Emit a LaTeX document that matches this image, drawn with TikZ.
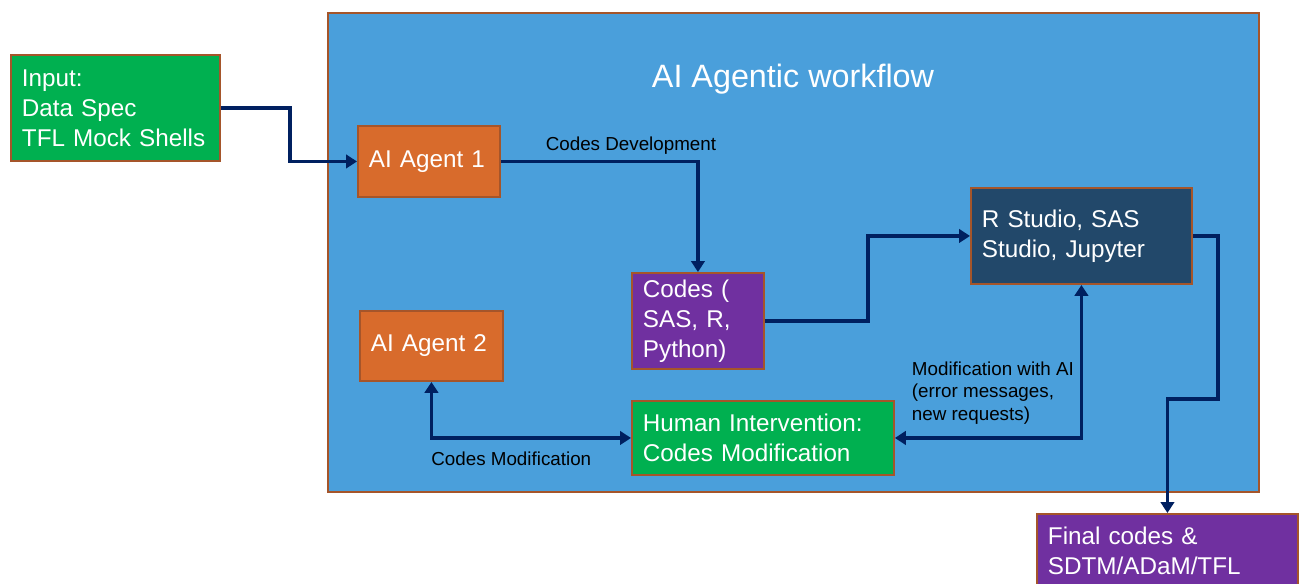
\documentclass[tikz,border=0pt]{standalone}
\usepackage{fontspec}
\setmainfont{Liberation Sans}
\usepackage{tikz}
\usetikzlibrary{arrows.meta,positioning}
\definecolor{flowBlue}{HTML}{4A9FDB}
\definecolor{edgeBrown}{HTML}{A5552A}
\definecolor{boxGreen}{HTML}{00B050}
\definecolor{boxOrange}{HTML}{D86B2C}
\definecolor{boxPurple}{HTML}{7030A0}
\definecolor{boxSlate}{HTML}{22486A}
\definecolor{arrowNavy}{HTML}{002060}
\tikzstyle{cbox}=[rectangle, draw=edgeBrown, line width=1.1pt, text=white, align=left, inner xsep=0.22cm, anchor=north west, font=\fontsize{13.8}{17}\selectfont]
\tikzstyle{flow}=[draw=arrowNavy, line width=1.9pt, -{Triangle[length=0.22cm,width=0.27cm]}]
\tikzstyle{flowboth}=[flow, {Triangle[length=0.22cm,width=0.27cm]}-{Triangle[length=0.22cm,width=0.27cm]}]
\tikzstyle{lbl}=[font=\fontsize{10.7}{12.8}\selectfont, text=black, align=left]

\begin{document}
\begin{tikzpicture}[x=0.02cm,y=-0.02cm]
	\path[use as bounding box, clip] (0,0) rectangle (1299,583);

	%%% outer frame
	\node[draw=edgeBrown, fill=flowBlue, line width=1.1pt, anchor=north west, minimum width=18.62cm, minimum height=9.58cm, inner sep=0] (workflow) at (327,12) {};
	\node[text=white, font=\fontsize{18.4}{22}\selectfont] (workflowTitle) at (793,79) {AI Agentic workflow};

	%%% boxes
	\node[cbox, fill=boxGreen, text width=3.74cm, minimum height=2.12cm] (inputBox) at (10,54) {Input:\\Data Spec\\TFL Mock Shells};
	\node[cbox, fill=boxOrange, text width=2.40cm, minimum height=1.42cm] (agentOne) at (357,125) {AI Agent 1};
	\node[cbox, fill=boxPurple, text width=2.20cm, minimum height=1.92cm] (codesBox) at (631,272) {Codes (\\SAS, R,\\Python)};
	\node[cbox, fill=boxSlate, text width=3.98cm, minimum height=1.92cm] (studioBox) at (970,187) {R Studio, SAS\\Studio, Jupyter};
	\node[cbox, fill=boxOrange, text width=2.42cm, minimum height=1.40cm] (agentTwo) at (359,310) {AI Agent 2};
	\node[cbox, fill=boxGreen, text width=4.80cm, minimum height=1.48cm] (humanBox) at (631,400) {Human Intervention:\\Codes Modification};
	\node[cbox, fill=boxPurple, text width=4.78cm, minimum height=1.48cm] (finalBox) at (1036,513) {Final codes \&\\SDTM/ADaM/TFL};

	%%% connectors
	\draw[flow] (inputBox.east) -- ++(69,0) |- (agentOne.west);
	\draw[flow] (agentOne.east) -| node[lbl, pos=0.33, above] {Codes Development} (codesBox.north);
	\draw[flow] (codesBox.east) -- ++(103,0) |- (studioBox.west);
	\draw[flow] (studioBox.east) -- ++(25,0) -- ++(0,163) -| (finalBox.north);

	% two-way links
	\draw[flowboth] (humanBox.east) -| node[lbl, pos=0.5, anchor=south east, yshift=3.5pt] {Modification with AI\\(error messages,\\new requests)} (studioBox.south);
	\draw[flowboth] (agentTwo.south) |- node[lbl, pos=0.7, below, yshift=-3.4pt] {Codes Modification} (humanBox.west);
\end{tikzpicture}
\end{document}
